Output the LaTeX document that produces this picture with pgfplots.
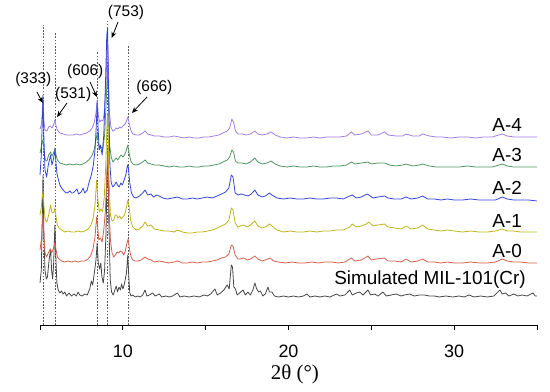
\documentclass[border=0pt]{standalone}
\usepackage{pgfplots}
\pgfplotsset{compat=1.18}
\usepackage{fontspec}
\setmainfont{Liberation Sans}
\newfontfamily\timesfont{Liberation Serif}
\usetikzlibrary{arrows.meta,calc}
\definecolor{csim}{RGB}{70,70,70}
\definecolor{cdash}{RGB}{95,95,95}
\definecolor{cazero}{RGB}{210,95,75}
\definecolor{caone}{RGB}{190,180,25}
\definecolor{catwo}{RGB}{50,70,220}
\definecolor{cathree}{RGB}{80,150,95}
\definecolor{cafour}{RGB}{160,125,230}
\begin{document}
\begin{tikzpicture}
\begin{axis}[
  scale only axis, width=497bp, height=325bp,
  xmin=5, xmax=35, ymin=0, ymax=325,
  axis x line=bottom, axis y line=none,
  axis line style={-, line width=0.9pt},
  xtick={10,20,30}, minor xtick={5,15,25,35},
  tick align=outside,
  major tick length=5bp, minor tick length=5bp,
  tick style={line width=0.9pt, black},
  /pgf/number format/assume math mode=true,
  ticklabel style={font=\fontsize{18}{18}\selectfont},
  xticklabel style={anchor=center, yshift=-21bp},
  xlabel={\timesfont\fontsize{21}{21}\selectfont 2θ (°)},
  xlabel style={at={(axis description cs:0.513,0)}, anchor=center, yshift=-49bp},
  clip=false,
  every axis plot/.append style={line width=0.8pt, line join=round},
]
% dashed guide lines
\begin{scope}[cdash, line width=0.55pt, dash pattern=on 1.6pt off 1.6pt]
\draw (axis cs:5.18,0) -- (axis cs:5.18,300);
\draw (axis cs:5.9,0) -- (axis cs:5.9,292);
\draw (axis cs:8.45,0) -- (axis cs:8.45,273);
\draw (axis cs:9.08,0) -- (axis cs:9.08,305);
\draw (axis cs:10.33,0) -- (axis cs:10.33,280);
\end{scope}

% Simulated
\addplot[csim] coordinates {(5.0,42)(5.08,55)(5.14,110)(5.18,150)(5.23,95)(5.3,55)(5.38,46)(5.45,48)(5.55,65)(5.64,76)(5.7,55)(5.76,46)(5.82,60)(5.9,100)(5.95,70)(6.02,42)(6.1,35)(6.2,32)(6.3,34)(6.4,31)(6.5,33)(6.6,29)(6.75,32)(6.9,29)(7.05,31)(7.2,29)(7.3,33)(7.4,30)(7.55,29)(7.7,31)(7.85,30)(8.0,36)(8.1,44)(8.18,40)(8.28,52)(8.38,65)(8.45,82)(8.52,62)(8.6,56)(8.67,62)(8.74,48)(8.82,42)(8.9,55)(8.98,90)(9.05,150)(9.1,170)(9.16,100)(9.24,45)(9.32,33)(9.42,30)(9.52,35)(9.6,39)(9.68,33)(9.77,38)(9.85,35)(9.93,41)(10.0,36)(10.08,40)(10.15,46)(10.22,52)(10.3,70)(10.36,48)(10.42,32)(10.5,29)(10.6,30)(10.75,28)(10.9,29)(11.05,28)(11.2,30)(11.34,35)(11.45,29)(11.6,30)(11.8,32)(11.95,29)(12.2,31)(12.35,28)(12.6,29)(12.8,28)(13.0,29)(13.3,32)(13.45,28)(13.7,29)(14.0,28)(14.3,29)(14.6,28)(14.9,30)(15.1,29)(15.3,31)(15.56,36)(15.7,30)(15.9,32)(16.1,35)(16.3,40)(16.42,36)(16.55,60)(16.62,58)(16.7,38)(16.8,36)(16.9,30)(17.05,32)(17.25,35)(17.4,30)(17.55,33)(17.7,30)(17.85,35)(17.97,42)(18.08,36)(18.2,33)(18.3,34)(18.45,29)(18.6,31)(18.76,38)(18.85,33)(19.0,33)(19.15,29)(19.4,28)(19.7,29)(20.0,28)(20.3,29)(20.6,28)(20.9,29)(21.1,31)(21.3,28)(21.6,29)(21.9,28)(22.2,29)(22.5,28)(22.9,31)(23.1,29)(23.4,30)(23.7,35)(23.85,30)(24.1,32)(24.3,33)(24.5,30)(24.8,35)(24.95,30)(25.2,31)(25.4,29)(25.7,33)(25.9,29)(26.2,30)(26.5,31)(26.8,29)(27.0,30)(27.3,31)(27.6,29)(27.9,30)(28.2,30)(28.5,29)(28.8,29)(29.1,28)(29.5,29)(29.9,28)(30.3,29)(30.6,28)(30.9,30)(31.2,28)(31.6,29)(32.0,28)(32.4,29)(32.76,35)(32.9,31)(33.1,32)(33.3,29)(33.6,31)(33.85,29)(34.1,30)(34.4,29)(34.75,32)(34.9,29)(35.0,29)};

% A-0
\addplot[cazero] coordinates {(5.0,75)(5.08,85)(5.14,100)(5.18,110)(5.24,88)(5.3,72)(5.4,68)(5.5,72)(5.62,76)(5.7,72)(5.8,76)(5.9,83)(5.97,75)(6.05,68)(6.15,66)(6.3,64)(6.5,63)(6.7,64)(6.9,63)(7.1,64)(7.3,63)(7.5,64)(7.7,64)(7.9,66)(8.05,69)(8.2,76)(8.32,88)(8.42,108)(8.48,98)(8.55,85)(8.65,87)(8.75,83)(8.85,95)(8.95,115)(9.05,160)(9.1,180)(9.16,120)(9.25,85)(9.35,72)(9.45,68)(9.55,70)(9.65,73)(9.75,72)(9.85,74)(9.95,73)(10.05,70)(10.15,74)(10.25,82)(10.32,86)(10.4,76)(10.5,68)(10.6,65)(10.75,64)(10.9,64)(11.1,65)(11.34,68)(11.5,66)(11.7,65)(11.9,63)(12.2,64)(12.5,63)(12.8,62)(13.1,63)(13.3,64)(13.6,62)(13.9,62)(14.2,63)(14.5,62)(14.8,63)(15.1,63)(15.4,64)(15.7,65)(15.95,67)(16.2,68)(16.4,71)(16.55,80)(16.65,79)(16.78,70)(16.95,66)(17.1,66)(17.3,67)(17.5,65)(17.7,66)(17.97,69)(18.15,66)(18.4,64)(18.6,65)(18.9,67)(19.1,64)(19.4,63)(19.8,62)(20.2,63)(20.6,62)(21.0,62)(21.4,63)(21.8,62)(22.2,63)(22.6,63)(23.0,62)(23.4,63)(23.8,67)(24.0,64)(24.4,65)(24.8,69)(25.0,65)(25.3,66)(25.8,67)(26.0,64)(26.4,64)(26.8,63)(27.1,66)(27.4,63)(27.8,64)(28.1,66)(28.4,63)(28.8,63)(29.2,62)(29.6,63)(30.0,62)(30.5,62)(31.0,63)(31.5,62)(32.0,62)(32.5,63)(32.9,66)(33.2,64)(33.6,63)(34.0,63)(34.5,62)(35.0,62)};

% A-1
\addplot[caone] coordinates {(5.0,110)(5.08,118)(5.14,130)(5.18,132)(5.24,118)(5.32,105)(5.42,103)(5.52,110)(5.64,120)(5.72,113)(5.82,112)(5.9,117)(5.97,108)(6.05,100)(6.15,97)(6.3,95)(6.5,93)(6.7,94)(6.9,93)(7.1,93)(7.3,94)(7.5,93)(7.7,94)(7.9,96)(8.05,99)(8.2,106)(8.32,120)(8.42,145)(8.5,125)(8.58,113)(8.68,116)(8.78,113)(8.88,128)(8.97,160)(9.05,205)(9.1,212)(9.16,150)(9.25,110)(9.35,104)(9.45,105)(9.55,110)(9.62,110)(9.7,107)(9.8,109)(9.9,106)(10.0,108)(10.1,110)(10.2,116)(10.3,125)(10.38,118)(10.48,104)(10.6,98)(10.8,95)(11.0,96)(11.2,99)(11.34,103)(11.5,99)(11.7,100)(11.9,96)(12.2,95)(12.5,94)(12.8,94)(13.1,93)(13.3,95)(13.6,93)(13.9,92)(14.2,92)(14.5,93)(14.8,93)(15.1,94)(15.4,95)(15.7,97)(15.95,99)(16.2,101)(16.4,105)(16.55,117)(16.65,115)(16.78,102)(16.95,98)(17.1,99)(17.3,100)(17.5,98)(17.7,100)(17.97,104)(18.15,99)(18.4,97)(18.6,98)(18.85,101)(19.0,99)(19.3,95)(19.7,93)(20.1,94)(20.5,93)(20.9,93)(21.3,94)(21.7,93)(22.1,94)(22.5,94)(22.9,95)(23.3,95)(23.7,98)(23.85,101)(24.1,98)(24.4,99)(24.7,101)(24.85,103)(25.1,99)(25.4,100)(25.8,101)(26.0,98)(26.4,97)(26.8,96)(27.1,99)(27.4,96)(27.8,97)(28.1,100)(28.4,96)(28.8,95)(29.2,94)(29.6,95)(30.0,94)(30.5,93)(31.0,94)(31.5,93)(32.0,93)(32.5,94)(32.9,96)(33.2,94)(33.6,94)(34.0,93)(34.5,93)(35.0,93)};

% A-3
\addplot[cathree] coordinates {(5.0,172)(5.08,178)(5.14,184)(5.18,185)(5.24,175)(5.32,165)(5.42,164)(5.52,170)(5.64,173)(5.72,169)(5.82,172)(5.9,177)(5.97,170)(6.05,165)(6.2,162)(6.4,161)(6.6,160)(6.8,161)(7.0,160)(7.2,161)(7.4,160)(7.6,161)(7.8,163)(8.0,166)(8.15,170)(8.28,176)(8.38,185)(8.45,192)(8.52,182)(8.6,176)(8.7,178)(8.8,176)(8.9,190)(9.0,225)(9.07,258)(9.12,235)(9.2,180)(9.3,168)(9.4,163)(9.5,165)(9.6,167)(9.7,165)(9.8,168)(9.9,170)(10.0,168)(10.1,170)(10.2,174)(10.3,180)(10.38,172)(10.48,164)(10.6,161)(10.8,160)(11.0,161)(11.2,163)(11.34,165)(11.5,162)(11.7,161)(11.9,160)(12.2,160)(12.5,159)(12.8,158)(13.1,159)(13.4,158)(13.7,158)(14.0,159)(14.3,158)(14.6,158)(14.9,159)(15.2,159)(15.5,160)(15.8,161)(16.05,163)(16.3,165)(16.45,168)(16.58,175)(16.68,173)(16.8,164)(16.95,162)(17.2,162)(17.45,161)(17.7,163)(17.97,167)(18.15,163)(18.4,161)(18.7,162)(18.95,164)(19.2,161)(19.5,159)(19.9,158)(20.3,159)(20.7,158)(21.1,158)(21.5,159)(21.9,158)(22.3,158)(22.7,159)(23.1,159)(23.5,160)(23.8,163)(24.0,161)(24.4,162)(24.8,163)(25.0,161)(25.4,162)(25.8,162)(26.1,160)(26.5,159)(26.9,160)(27.1,161)(27.5,159)(27.9,160)(28.1,161)(28.5,159)(28.9,158)(29.3,158)(29.8,158)(30.3,158)(30.8,159)(31.3,158)(31.8,158)(32.3,158)(32.9,161)(33.2,159)(33.6,158)(34.1,158)(34.6,158)(35.0,158)};

% A-4
\addplot[cafour] coordinates {(5.0,196)(5.08,200)(5.14,212)(5.18,228)(5.23,205)(5.3,195)(5.42,194)(5.52,198)(5.64,199)(5.72,197)(5.82,200)(5.9,205)(5.97,199)(6.05,195)(6.2,192)(6.4,191)(6.6,190)(6.8,190)(7.0,190)(7.2,191)(7.4,190)(7.6,191)(7.8,192)(8.0,194)(8.15,197)(8.28,203)(8.38,212)(8.45,225)(8.52,210)(8.6,203)(8.7,205)(8.8,204)(8.9,215)(9.0,250)(9.06,288)(9.11,270)(9.18,215)(9.28,198)(9.4,194)(9.5,195)(9.6,197)(9.7,196)(9.8,198)(9.9,197)(10.0,199)(10.1,200)(10.2,203)(10.3,208)(10.38,202)(10.48,195)(10.6,191)(10.8,190)(11.0,190)(11.2,192)(11.34,194)(11.5,191)(11.7,190)(11.9,189)(12.2,189)(12.5,188)(12.8,188)(13.1,189)(13.4,188)(13.7,187)(14.0,188)(14.3,187)(14.6,187)(14.9,188)(15.2,188)(15.5,189)(15.8,190)(16.05,192)(16.3,194)(16.45,197)(16.58,206)(16.68,203)(16.8,194)(16.95,191)(17.2,191)(17.45,190)(17.7,191)(17.97,194)(18.15,191)(18.4,190)(18.7,191)(18.95,193)(19.2,190)(19.5,188)(19.9,187)(20.3,188)(20.7,187)(21.1,187)(21.5,188)(21.9,187)(22.3,188)(22.7,188)(23.1,188)(23.5,189)(23.8,193)(24.0,190)(24.4,191)(24.8,194)(25.0,190)(25.4,190)(25.8,193)(26.0,190)(26.5,189)(26.9,189)(27.1,191)(27.5,189)(27.9,189)(28.1,191)(28.5,189)(28.9,188)(29.3,188)(29.8,187)(30.3,188)(30.8,188)(31.3,187)(31.8,188)(32.3,188)(32.9,191)(33.2,189)(33.6,188)(34.1,188)(34.6,188)(35.0,188)};

% A-2
\addplot[catwo] coordinates {(5.0,150)(5.08,170)(5.14,205)(5.18,230)(5.23,190)(5.3,155)(5.4,148)(5.5,160)(5.64,170)(5.72,160)(5.8,165)(5.9,175)(5.95,165)(6.02,152)(6.1,146)(6.2,140)(6.35,136)(6.5,133)(6.65,132)(6.8,134)(6.9,132)(7.0,132)(7.12,134)(7.23,136)(7.33,131)(7.48,133)(7.6,137)(7.7,132)(7.85,135)(7.95,142)(8.1,150)(8.22,160)(8.32,175)(8.4,200)(8.45,222)(8.5,200)(8.57,175)(8.65,180)(8.75,170)(8.85,190)(8.95,240)(9.03,290)(9.08,297)(9.14,230)(9.22,160)(9.3,142)(9.4,138)(9.5,140)(9.6,143)(9.68,140)(9.78,138)(9.88,142)(9.97,140)(10.08,145)(10.18,150)(10.28,160)(10.33,158)(10.42,142)(10.52,132)(10.65,128)(10.8,127)(11.0,129)(11.2,132)(11.34,135)(11.5,130)(11.7,131)(11.85,128)(12.05,130)(12.2,129)(12.4,127)(12.7,126)(13.0,127)(13.3,128)(13.6,126)(13.9,126)(14.2,127)(14.5,126)(14.8,127)(15.1,128)(15.4,127)(15.7,129)(15.95,131)(16.2,133)(16.4,137)(16.55,150)(16.65,148)(16.78,132)(16.95,130)(17.15,131)(17.35,130)(17.55,129)(17.75,131)(17.97,135)(18.15,130)(18.4,128)(18.6,129)(18.85,132)(19.0,130)(19.3,127)(19.7,126)(20.1,127)(20.5,126)(20.9,126)(21.3,127)(21.7,126)(22.1,126)(22.5,127)(22.9,127)(23.3,126)(23.7,129)(23.85,130)(24.1,127)(24.4,128)(24.75,131)(24.85,130)(25.1,127)(25.4,128)(25.8,129)(26.0,127)(26.4,126)(26.8,126)(27.1,128)(27.4,126)(27.8,127)(28.1,129)(28.4,126)(28.8,126)(29.2,125)(29.6,126)(30.0,125)(30.5,125)(31.0,126)(31.5,125)(32.0,125)(32.5,125)(32.9,128)(33.2,126)(33.6,125)(34.0,125)(34.5,125)(35.0,124)};

% peak annotations
\begin{scope}[font=\fontsize{15.5}{15.5}\selectfont]
\node at (axis cs:4.6,245) {(333)};
\node at (axis cs:7.0,230) {(531)};
\node at (axis cs:7.73,253) {(606)};
\node at (axis cs:10.19,312) {(753)};
\node at (axis cs:11.9,237) {(666)};
\end{scope}
\begin{scope}[line width=0.8pt, -{Stealth[length=6bp,width=5bp]}]
\draw (axis cs:4.82,233) -- (axis cs:5.16,222);
\draw (axis cs:6.63,222) -- (axis cs:6.03,208);
\draw (axis cs:8.02,243) -- (axis cs:8.43,228);
\draw (axis cs:9.71,303) -- (axis cs:9.33,287);
\draw (axis cs:11.46,228) -- (axis cs:10.55,212);
\end{scope}
% curve labels
\begin{scope}[font=\fontsize{19}{19}\selectfont, inner sep=0pt]
\node[anchor=east] at (axis cs:34.1,200) {A-4};
\node[anchor=east] at (axis cs:34.1,170) {A-3};
\node[anchor=east] at (axis cs:34.1,137) {A-2};
\node[anchor=east] at (axis cs:34.1,104) {A-1};
\node[anchor=east] at (axis cs:34.1,74) {A-0};
\node[anchor=east] at (axis cs:34.33,45) {Simulated MIL-101(Cr)};
\end{scope}
\end{axis}
\pgfresetboundingbox
\path[use as bounding box] ($(current axis.south west)+(-40bp,-67bp)$) rectangle ($(current axis.south west)+(510bp,325bp)$);
\end{tikzpicture}
\end{document}
